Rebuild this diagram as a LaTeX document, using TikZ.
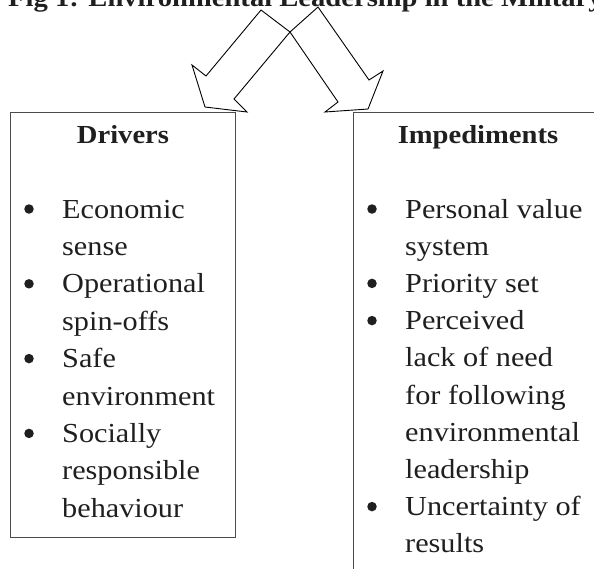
\documentclass[tikz,border=0pt]{standalone}
\usepackage{fontspec}
\setmainfont[FakeStretch=1.10]{Liberation Serif}
\begin{document}
\begin{tikzpicture}[x=1pt,y=-1pt,
  panel/.style={draw=black!70, line width=1.2pt, inner sep=0pt},
  blockarrow/.style={draw=black, line width=0.9pt, line join=miter, fill=white},
  head/.style={anchor=base, inner sep=0pt, font=\bfseries\fontsize{26}{30}\selectfont, text=black!88},
  item/.style={anchor=base west, inner sep=0pt, font=\fontsize{27.5}{32}\selectfont, text=black!88},
  dot/.style={circle, fill=black!88, minimum size=9.5pt, inner sep=0pt}]
\useasboundingbox (0,0) rectangle (594,568);
\clip (0,0) rectangle (594,568);

% title, cut by the top edge
\node[anchor=base west, inner sep=0pt, font=\bfseries\fontsize{26}{30}\selectfont, text=black!88]
  (title) at (8,6.5) {Fig 1: Environmental Leadership in the Military};

% the two boxes
\node[panel, anchor=north west, minimum width=225pt, minimum height=425pt] (drivers) at (10,112) {};
\node[panel, anchor=north west, minimum width=260pt, minimum height=480pt] (imped) at (353,112) {};

% crossing block arrows
\coordinate (cross) at (290,32);
\draw[blockarrow] (261,10) -- (206,76) -- (192,65) -- (205,107) -- (247,112) -- (234,99) -- (cross) -- cycle;
\draw[blockarrow] (318,7) -- (369,80) -- (383,71) -- (368,109) -- (325,112) -- (338,102) -- (cross) -- cycle;

% drivers
\node[head] (dhead) at (123,143) {Drivers};
\foreach \k/\t in {0/Economic, 1/sense, 2/Operational, 3/spin-offs, 4/Safe,
                   5/environment, 6/Socially, 7/responsible, 8/behaviour}
  \node[item] (d\k) at (62,218+37.4*\k) {\t};
\foreach \k in {0,2,4,6}
  \node[dot] (db\k) at (29,209+37.4*\k) {};

% impediments
\node[head] (ihead) at (478,143) {Impediments};
\foreach \k/\t in {0/Personal value, 1/system, 2/Priority set, 3/Perceived,
                   4/lack of need, 5/for following, 6/environmental,
                   7/leadership, 8/Uncertainty of, 9/results}
  \node[item] (i\k) at (405,218+37.2*\k) {\t};
\foreach \k in {0,2,3,8}
  \node[dot] (ib\k) at (372,209+37.2*\k) {};
\end{tikzpicture}
\end{document}
